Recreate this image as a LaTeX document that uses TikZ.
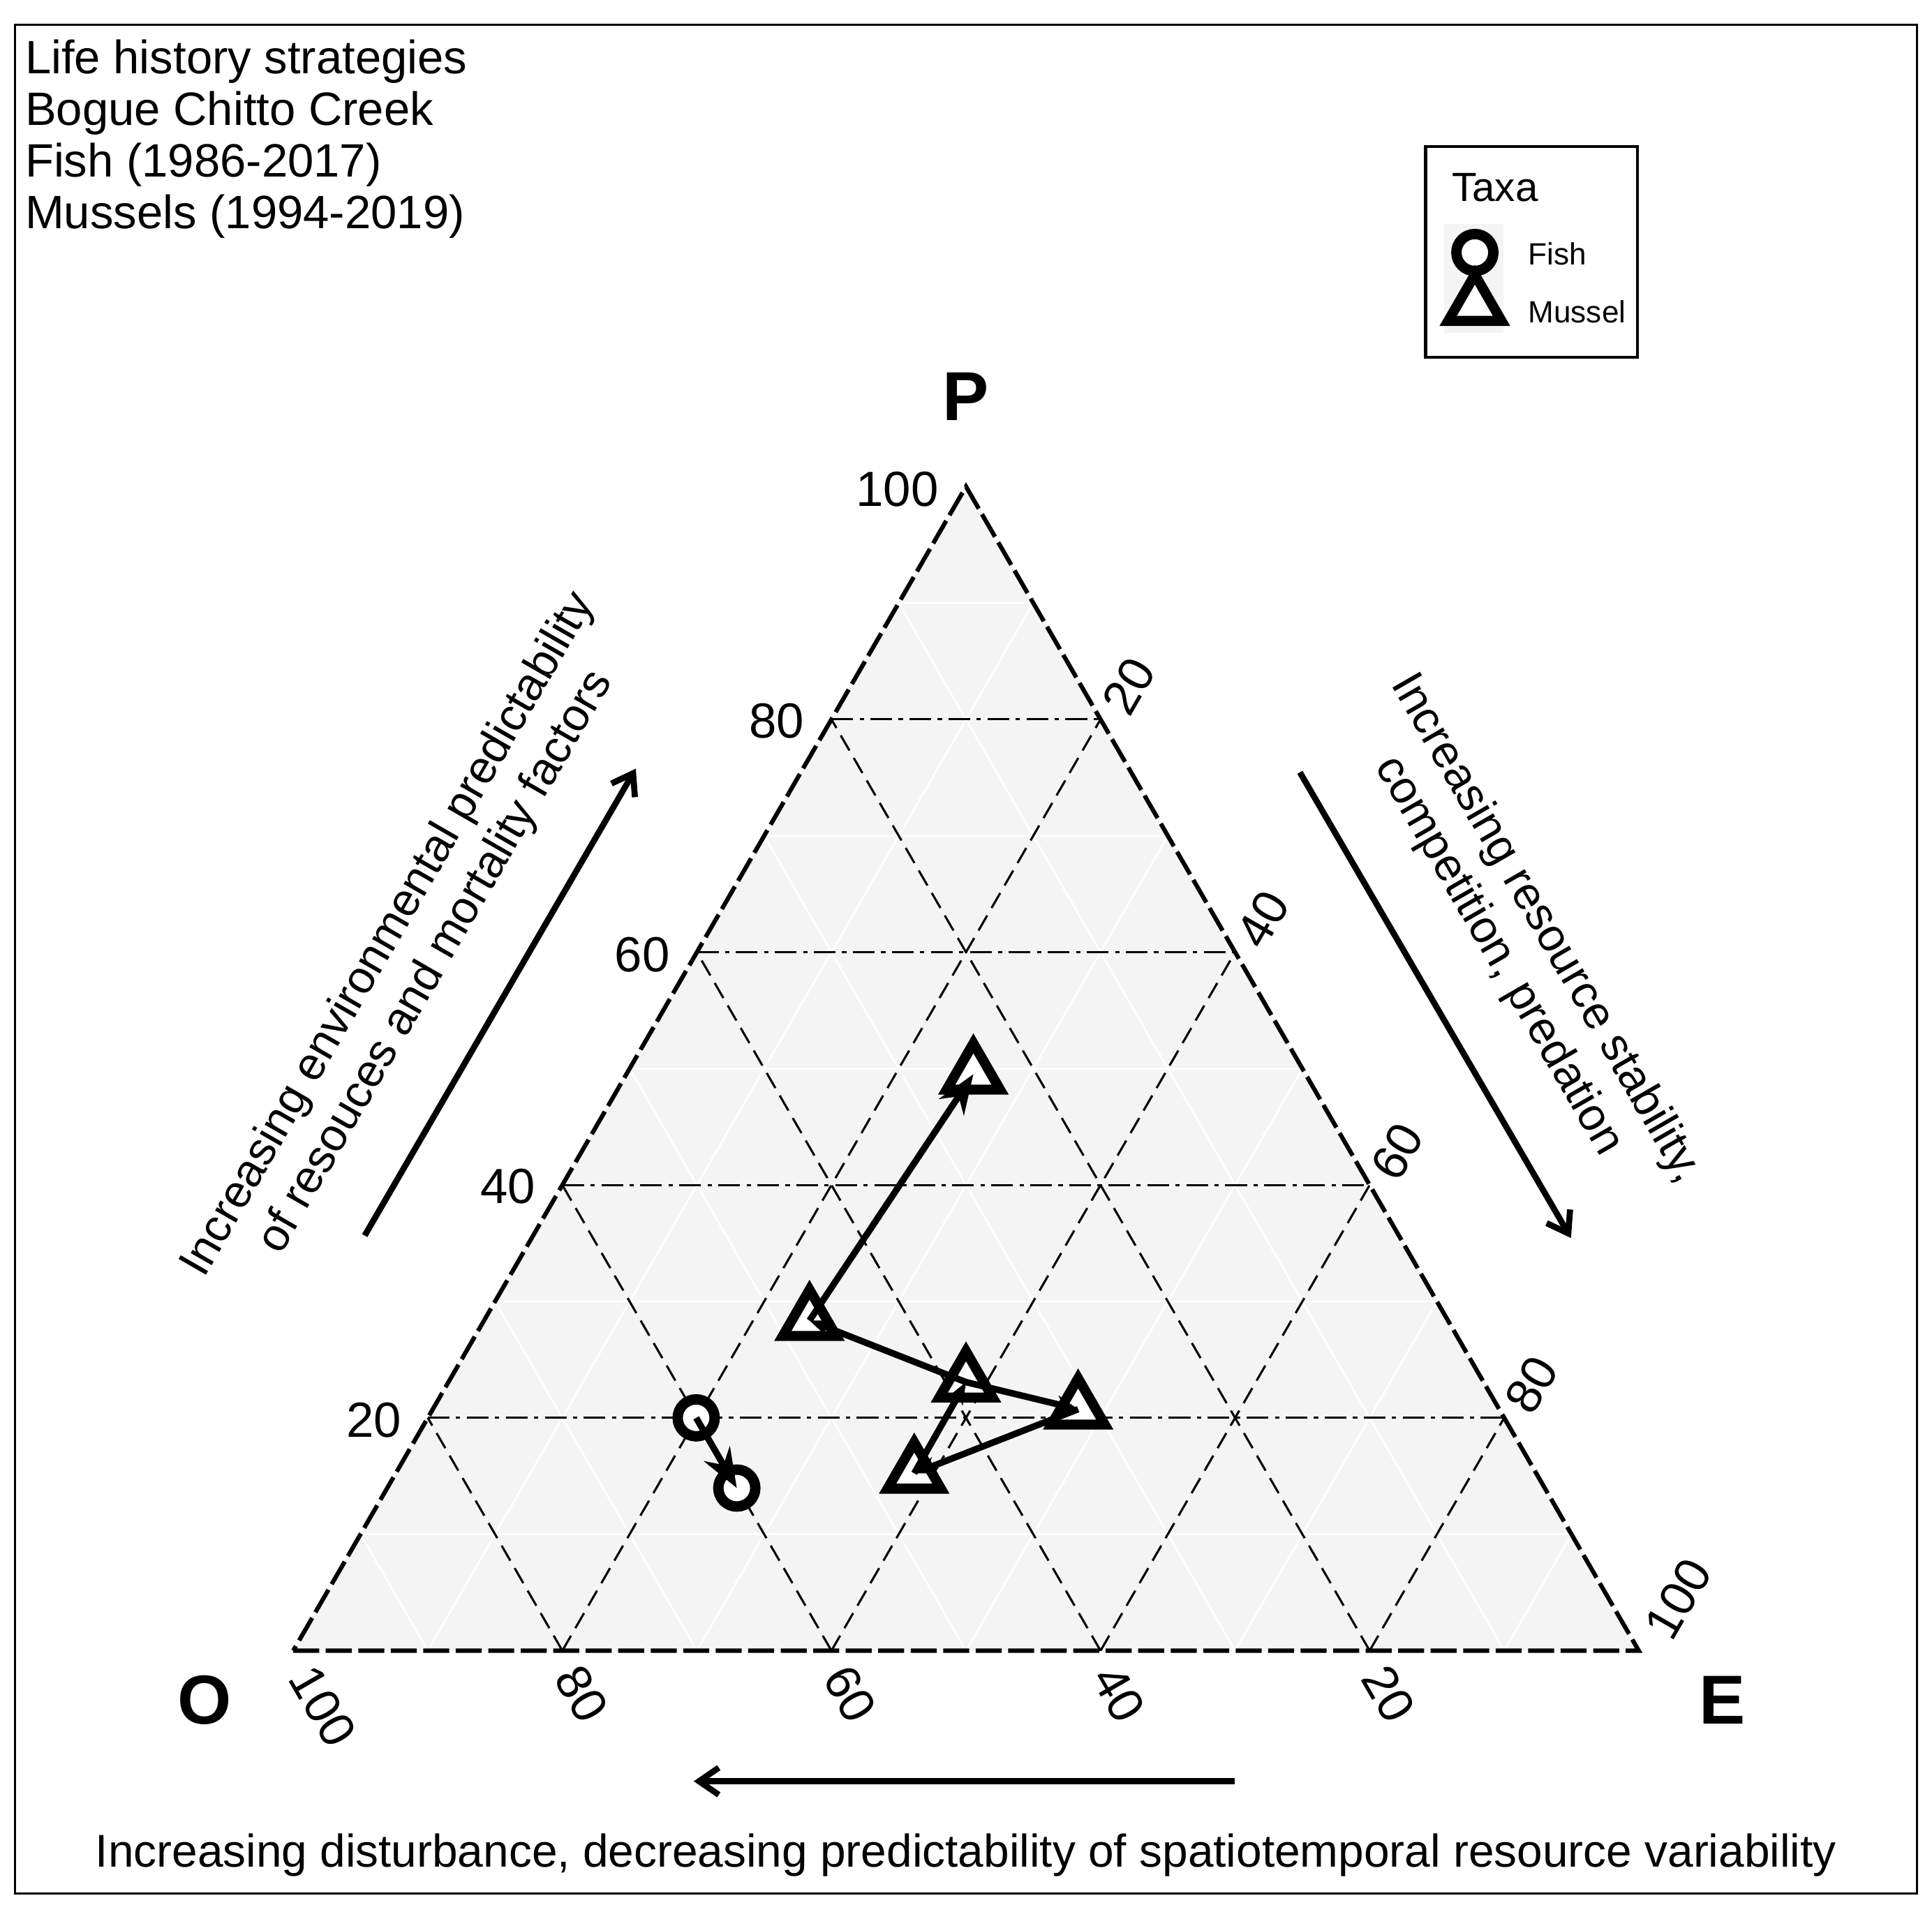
\documentclass[tikz,border=0pt]{standalone}
\usepackage{fontspec}
\setmainfont{Liberation Sans}
\usetikzlibrary{shapes.geometric,arrows.meta}
\begin{document}
\begin{tikzpicture}[x=0.01cm,y=-0.01cm,
  tri/.style={regular polygon,regular polygon sides=3,draw,line width=2.3pt,fill=white,minimum size=0.5cm,inner sep=0pt},
  circ/.style={circle,draw,line width=2.4pt,fill=white,minimum size=0.3cm,inner sep=0pt},
  path/.style={line width=1.5pt,-{Stealth[length=0.18cm,width=0.14cm]}},
  bigpath/.style={line width=1.5pt,-{Stealth[length=0.32cm,width=0.24cm]}},
  tick/.style={font=\fontsize{11.4}{13}\selectfont},
  major/.style={black,line width=0.5pt,dash pattern=on 4pt off 2pt},
  majordd/.style={black,line width=0.5pt,dash pattern=on 5pt off 1.5pt on 1pt off 1.5pt},
  lbl/.style={font=\fontsize{10.6}{12.6}\selectfont}]
\useasboundingbox (0,0) rectangle (1568,1552);
\draw[line width=0.5pt] (12,20) rectangle (1556,1537);
\coordinate (O) at (238,1340); \coordinate (E) at (1330,1340); \coordinate (P) at (784,395);
\fill[gray!9] (O) -- (E) -- (P) -- cycle;
\foreach \v in {0.1,0.3,0.5,0.7,0.9}{
  \draw[white,line width=0.4pt] ({238+546*\v},{1340-945*\v}) -- ({1330-546*\v},{1340-945*\v});
  \draw[white,line width=0.4pt] ({238+1092*\v},1340) -- ({238+1092*\v+546*(1-\v)},{1340-945*(1-\v)});
  \draw[white,line width=0.4pt] ({238+1092*\v},1340) -- ({238+546*\v},{1340-945*\v});
}
\foreach \v in {0.2,0.4,0.6,0.8}{
  \draw[majordd] ({238+546*\v},{1340-945*\v}) -- ({1330-546*\v},{1340-945*\v});
  \draw[major] ({238+1092*\v},1340) -- ({238+1092*\v+546*(1-\v)},{1340-945*(1-\v)});
  \draw[major] ({238+1092*\v},1340) -- ({238+546*\v},{1340-945*\v});
}
\draw[line width=1pt,dash pattern=on 6pt off 1.5pt] (O) -- (E) -- (P) -- cycle;
\node[font=\bfseries\fontsize{16}{18}\selectfont] (lp) at (784,322) {P};
\node[font=\bfseries\fontsize{16}{18}\selectfont] (lo) at (166,1380) {O};
\node[font=\bfseries\fontsize{16}{18}\selectfont] (le) at (1398,1380) {E};
\node[tick,anchor=east] (t1) at (774,397) {100};
\node[tick,anchor=east] (t2) at (665,585) {80};
\node[tick,anchor=east] (t3) at (556,775) {60};
\node[tick,anchor=east] (t4) at (447,963) {40};
\node[tick,anchor=east] (t5) at (338,1153) {20};
\node[tick,rotate=60] (r1) at (916,557) {20};
\node[tick,rotate=60] (r2) at (1025,746) {40};
\node[tick,rotate=60] (r3) at (1134,935) {60};
\node[tick,rotate=60] (r4) at (1243,1124) {80};
\node[tick,rotate=60] (r5) at (1362,1298) {100};
\node[tick,rotate=-60] (b1) at (262,1385) {100};
\node[tick,rotate=-60] (b2) at (472,1375) {80};
\node[tick,rotate=-60] (b3) at (690,1375) {60};
\node[tick,rotate=-60] (b4) at (908,1375) {40};
\node[tick,rotate=-60] (b5) at (1127,1375) {20};
\node[anchor=north west,align=left,font=\fontsize{10.8}{11.9}\selectfont] (title) at (8,20) {Life history strategies\\Bogue Chitto Creek\\Fish (1986-2017)\\Mussels (1994-2019)};
\draw[line width=0.7pt] (1157,119) rectangle (1329,290);
\node[anchor=west,font=\fontsize{9.4}{11}\selectfont] (lt) at (1166,152) {Taxa};
\fill[gray!9] (1172,182) rectangle (1220,270);
\node[circ] (lc) at (1197,205) {};
\node[tri] (lm) at (1197,248) {};
\node[anchor=west,font=\fontsize{7.1}{9}\selectfont] (lf) at (1228,206) {Fish};
\node[anchor=west,font=\fontsize{7.1}{9}\selectfont] (lmu) at (1228,253) {Mussel};
\coordinate (la1) at (296,1003); \coordinate (la2) at (516,624);
\draw[line width=1.4pt,-{Straight Barb[length=0.16cm,width=0.22cm]}] (la1) -- (la2);
\node[lbl,rotate=60,align=center] (ltxt) at (335,770) {Increasing environmental predictability\\of resouces and mortality factors};
\coordinate (ra1) at (1055,627); \coordinate (ra2) at (1275,1005);
\draw[line width=1.4pt,-{Straight Barb[length=0.16cm,width=0.22cm]}] (ra1) -- (ra2);
\node[lbl,rotate=-60,align=center] (rtxt) at (1235,765) {Increasing resource stability,\\competition, predation};
\coordinate (ba1) at (1002,1446); \coordinate (ba2) at (563,1446);
\draw[line width=1.4pt,-{Straight Barb[length=0.16cm,width=0.22cm]}] (ba1) -- (ba2);
\node[lbl] (btxt) at (784,1506) {Increasing disturbance, decreasing predictability of spatiotemporal resource variability};
\node[tri] (m1) at (784,1122) {};
\node[tri] (m2) at (875,1144) {};
\node[tri] (m3) at (742,1196) {};
\node[tri] (m4) at (657,1072) {};
\node[tri] (m5) at (790,872) {};
\node[circ] (f1) at (565,1151) {};
\node[circ] (f2) at (598,1208) {};
\draw[path] (m1.center) -- (m2.center);
\draw[path] (m2.center) -- (m3.center);
\draw[path] (m3.center) -- (m1.center);
\draw[path] (m1.center) -- (m4.center);
\draw[bigpath] (m4.center) -- (m5.center);
\draw[bigpath] (f1.center) -- (f2.center);
\end{tikzpicture}
\end{document}
